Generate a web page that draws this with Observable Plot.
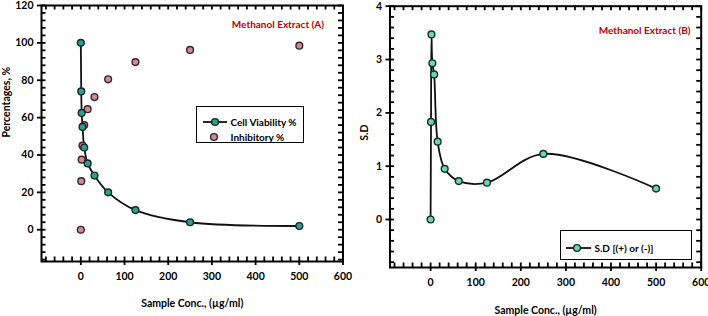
<!DOCTYPE html>
<html>
<head>
<meta charset="utf-8">
<script src="https://cdn.jsdelivr.net/npm/d3@7"></script>
<script src="https://cdn.jsdelivr.net/npm/@observablehq/plot@0.6"></script>
<style>
  html, body { margin: 0; padding: 0; background: #fff; }
  #wrap { position: relative; width: 708px; height: 316px; overflow: hidden; font-family: Lato, "Liberation Sans", sans-serif; font-weight: bold; }
  .panel { position: absolute; top: 0; }
  .legend { position: absolute; background: #fff; border: 1.8px solid #000; box-sizing: border-box; font-size: 10px; color: #000; }
  .row { position: absolute; display: flex; align-items: center; white-space: nowrap; }
  .row svg { display: block; }
</style>
</head>
<body>
<div id="wrap"></div>
<script>
// ---- data ----
const conc = [0, 0.98, 1.95, 3.9, 7.8, 15.6, 31.25, 62.5, 125, 250, 500];
const viability = [100, 74, 62.5, 55, 44, 35.5, 29, 20, 10.5, 4, 2];
const inhibitory = [0, 26, 37.5, 45, 56, 64.5, 71, 80.5, 89.7, 96.2, 98.5];
const sd = [0, 1.83, 3.47, 2.93, 2.72, 1.46, 0.95, 0.72, 0.69, 1.23, 0.58];
const xTicks = [0, 100, 200, 300, 400, 500, 600];
const xMinor = d3.range(-80, 601, 20);
const yTicksA = [0, 20, 40, 60, 80, 100, 120];
const yMinorA = d3.range(-16, 121, 4);
const yTicksB = [0, 1, 2, 3, 4];
const yMinorB = d3.range(-0.8, 4.001, 0.2).map(v => +v.toFixed(1));
const xLabel = "Sample Conc., (µg/ml)";
const yLabelA = "Percentages, %";
const yLabelB = "S.D";
const titleA = "Methanol Extract (A)";
const titleB = "Methanol Extract (B)";
const legendA = ["Cell Viability %", "Inhibitory %"];
const legendB = ["S.D [(+) or (-)]"];

const colViab = "#2f9e8e";
const colInh = "#c98d94";
const colInhStroke = "#3d2226";
const colSD = "#6fd6aa";

const dataA = conc.map((c, i) => ({x: c, v: viability[i], inh: inhibitory[i]}));
const dataB = conc.map((c, i) => ({x: c, sd: sd[i]}));

const style = {fontFamily: "Lato, 'Liberation Sans', sans-serif", fontWeight: "bold", fontSize: "10.5px", color: "#000", background: "transparent", overflow: "visible"};

function panel({width, mL, mR, mT, mB, yDomain, yTicks, yMinor, yLabel, yLabelDx, title, titleDx, titleDy, xLabelDy, marks}) {
  const H = 316;
  const innerH = H - mT - mB;
  const innerW = width - mL - mR;
  const xDomain = [-90, 600];
  // tick length (4.5px) expressed in each scale's units
  const tx = 4.5 * (xDomain[1] - xDomain[0]) / innerW;
  const ty = 4.5 * (yDomain[1] - yDomain[0]) / innerH;
  const tick = {stroke: "#000", strokeWidth: 1.8};
  return Plot.plot({
    width, height: H,
    marginLeft: mL, marginRight: mR, marginTop: mT, marginBottom: mB,
    style,
    x: {domain: xDomain},
    y: {domain: yDomain},
    marks: [
      Plot.frame({stroke: "#000", strokeWidth: 2, fill: "none"}),
      // minor ticks (inward) on all four sides
      Plot.ruleX(xMinor, {x: d => d, y1: yDomain[0], y2: yDomain[0] + ty, ...tick}),
      Plot.ruleX(xMinor, {x: d => d, y1: yDomain[1], y2: yDomain[1] - ty, ...tick}),
      Plot.ruleY(yMinor, {y: d => d, x1: xDomain[0], x2: xDomain[0] + tx, ...tick}),
      Plot.ruleY(yMinor, {y: d => d, x1: xDomain[1], x2: xDomain[1] - tx, ...tick}),
      Plot.axisX({ticks: xTicks, tickSize: 4, tickPadding: 7, label: null, tickFormat: d => d, strokeWidth: 1.8}),
      Plot.axisY({ticks: yTicks, tickSize: 4, tickPadding: 4, label: null, tickFormat: d => d, strokeWidth: 1.8}),
      ...marks,
      Plot.text([title], {frameAnchor: "top-right", dx: titleDx, dy: titleDy, textAnchor: "end", fill: "#c00000", fontSize: 10, fontWeight: "bold"}),
      Plot.text([xLabel], {frameAnchor: "bottom", dy: xLabelDy, lineAnchor: "middle", fontSize: 10.5, fontWeight: "bold"}),
      Plot.text([yLabel], {frameAnchor: "left", dx: yLabelDx, dy: 4, rotate: -90, lineAnchor: "middle", fontSize: 10.5, fontWeight: "bold"})
    ]
  });
}

const wrap = document.getElementById("wrap");

const chartA = panel({
  width: 355, mL: 41, mR: 12.5, mT: 5, mB: 55,
  yDomain: [-17, 120], yTicks: yTicksA, yMinor: yMinorA,
  yLabel: yLabelA, yLabelDx: -35,
  title: titleA, titleDx: -19, titleDy: 15.7, xLabelDy: 42,
  marks: [
    Plot.line(dataA, {x: "x", y: "v", curve: "catmull-rom", stroke: "#111", strokeWidth: 1.8}),
    Plot.dot(dataA, {x: "x", y: "inh", r: 3.4, fill: colInh, stroke: colInhStroke, strokeWidth: 1.4}),
    Plot.dot(dataA, {x: "x", y: "v", r: 3.4, fill: colViab, stroke: "#102a26", strokeWidth: 1.4})
  ]
});
chartA.classList.add("panel");
chartA.style.left = "0px";
wrap.appendChild(chartA);

const chartB = panel({
  width: 358, mL: 39.5, mR: 7.3, mT: 5.7, mB: 49,
  yDomain: [-0.9, 4], yTicks: yTicksB, yMinor: yMinorB,
  yLabel: yLabelB, yLabelDx: -25,
  title: titleB, titleDx: -10.7, titleDy: 21, xLabelDy: 43,
  marks: [
    Plot.line(dataB, {x: "x", y: "sd", curve: "catmull-rom", stroke: "#111", strokeWidth: 1.8}),
    Plot.dot(dataB, {x: "x", y: "sd", r: 3.4, fill: colSD, stroke: "#12302a", strokeWidth: 1.4})
  ]
});
chartB.classList.add("panel");
chartB.style.left = "350px";
wrap.appendChild(chartB);

// ---- legends (HTML overlays) ----
function lineMarker(fill, stroke, w, cx) {
  return `<svg width="${w}" height="10"><line x1="0" y1="5" x2="${w}" y2="5" stroke="#111" stroke-width="1.8"/><circle cx="${cx}" cy="5" r="3.4" fill="${fill}" stroke="${stroke}" stroke-width="1.4"/></svg>`;
}
function dotMarker(fill, stroke, w, cx) {
  return `<svg width="${w}" height="10"><circle cx="${cx}" cy="5" r="3.4" fill="${fill}" stroke="${stroke}" stroke-width="1.4"/></svg>`;
}

const legA = document.createElement("div");
legA.className = "legend";
Object.assign(legA.style, {left: "196px", top: "106px", width: "108px", height: "37px"});
legA.innerHTML =
  `<div class="row" style="left:5.5px; top:9px;">${lineMarker(colViab, "#102a26", 24, 12)}<span style="margin-left:4px;">${legendA[0]}</span></div>` +
  `<div class="row" style="left:5.5px; top:24px;">${dotMarker(colInh, colInhStroke, 24, 11)}<span style="margin-left:4px;">${legendA[1]}</span></div>`;
wrap.appendChild(legA);

const legB = document.createElement("div");
legB.className = "legend";
Object.assign(legB.style, {left: "560px", top: "230px", width: "132px", height: "30px"});
legB.innerHTML =
  `<div class="row" style="left:4.5px; top:11px;">${lineMarker(colSD, "#12302a", 25, 11)}<span style="margin-left:4px;">${legendB[0]}</span></div>`;
wrap.appendChild(legB);
</script>
</body>
</html>
